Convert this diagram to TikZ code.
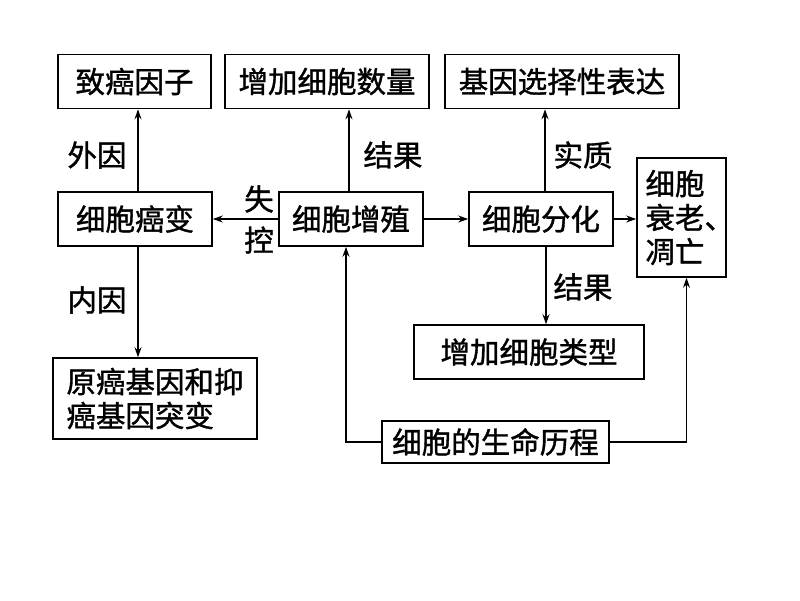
\documentclass[tikz,border=0pt]{standalone}
\usepackage{fontspec}
\newfontfamily\cjk[FakeBold=1.2]{Noto Sans CJK SC}
\usetikzlibrary{arrows.meta,calc}
\tikzset{
  box/.style={draw,line width=1.6pt,inner sep=0pt,minimum height=54pt,font=\cjk\fontsize{29.5}{34}\selectfont},
  lbl/.style={inner sep=0pt,font=\cjk\fontsize{29.5}{34}\selectfont},
  arr/.style={line width=1.3pt,-{Stealth[length=10pt,width=7pt]}}
}
\begin{document}
\begin{tikzpicture}[x=1pt,y=-1pt]
\fill[white] (0,0) rectangle (800,600);
\useasboundingbox (0,0) rectangle (800,600);
\node[box,minimum width=153pt] (zhiai) at (134.5,81.5) {致癌因子};
\node[box,minimum width=204pt] (shuliang) at (327,81.5) {增加细胞数量};
\node[box,minimum width=234pt] (biaoda) at (562,81.5) {基因选择性表达};
\node[box,minimum width=154pt] (aibian) at (135,219) {细胞癌变};
\node[box,minimum width=144pt] (zengzhi) at (351,219) {细胞增殖};
\node[box,minimum width=144pt] (fenhua) at (541,219) {细胞分化};
\node[box,minimum width=89pt,minimum height=119pt,text width=72pt,inner xsep=8.5pt,align=left] (shuailao) at (681.5,217.5) {细胞\\衰老、\\凋亡};
\node[box,minimum width=230pt] (leixing) at (529,352) {增加细胞类型};
\node[box,minimum width=204pt,minimum height=81pt,align=left] (yuanai) at (155,398.5) {原癌基因和抑\\癌基因突变};
\node[box,minimum width=227pt,minimum height=42pt] (licheng) at (495.5,442) {细胞的生命历程};
\node[lbl] (waiyin) at (97,155) {外因};
\node[lbl] (neiyin) at (97,300) {内因};
\node[lbl] (jieguo1) at (393,155) {结果};
\node[lbl] (shizhi) at (583,155) {实质};
\node[lbl] (jieguo2) at (583,287) {结果};
\node[lbl] (shi) at (259,199) {失};
\node[lbl] (kong) at (259,240) {控};
\coordinate (a1) at ($(aibian.north)+(3,0)$);
\coordinate (a2) at ($(aibian.south)+(3,0)$);
\draw[arr] (a1) -- (a1 |- zhiai.south);
\draw[arr] (a2) -- (a2 |- yuanai.north);
\coordinate (z1) at ($(zengzhi.north)+(-2,0)$);
\draw[arr] (z1) -- (z1 |- shuliang.south);
\coordinate (f1) at ($(fenhua.north)+(4,0)$);
\coordinate (f2) at ($(fenhua.south)+(5,0)$);
\draw[arr] (f1) -- (f1 |- biaoda.south);
\draw[arr] (f2) -- (f2 |- leixing.north);
\draw[arr] (zengzhi.west) -- (aibian.east);
\draw[arr] (zengzhi.east) -- (fenhua.west);
\draw[arr] (fenhua.east) -- (fenhua.east -| shuailao.west);
\coordinate (z2) at ($(zengzhi.south)+(-5,0)$);
\coordinate (s2) at ($(shuailao.south)+(5,0)$);
\draw[arr] (licheng.west) -| (z2);
\draw[arr] (licheng.east) -| (s2);
\end{tikzpicture}
\end{document}
